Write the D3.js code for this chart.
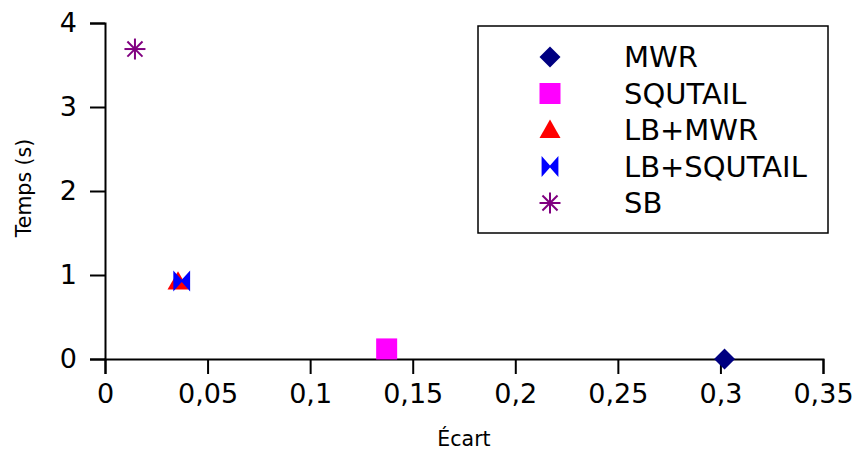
<!DOCTYPE html>
<html>
<head>
<meta charset="utf-8">
<script src="https://cdn.jsdelivr.net/npm/d3@7"></script>
<style>
  body { margin: 0; background: #fff; }
  svg { font-family: 'DejaVu Sans', sans-serif; }
</style>
</head>
<body>
<div class="chart"></div>
<script>
// series, one point each
const seriesNames = ['MWR', 'SQUTAIL', 'LB+MWR', 'LB+SQUTAIL', 'SB']
const ecart = [0.302, 0.1373, 0.0356, 0.0374, 0.0146]
const temps = [0.0, 0.12, 0.92, 0.93, 3.69]
const colors = ['#000080', '#ff00ff', '#ff0000', '#0000ff', '#800080']
const xTicks = [0, 0.05, 0.1, 0.15, 0.2, 0.25, 0.3, 0.35]
const yTicks = [0, 1, 2, 3, 4]

const W = 859
const H = 452
const margin = { top: 23, right: 36, bottom: 93, left: 105 }
const height = H - margin.top - margin.bottom

const svg = d3.select('.chart').append('svg')
  .attr('width', W)
  .attr('height', H)
const chart = svg.append('g')
  .attr('transform', `translate(${margin.left},${margin.top})`)

const x = d3.scaleLinear().domain([0, 0.35]).range([0, 718])
const y = d3.scaleLinear().domain([0, 4]).range([height, 0])

const fmt = d => String(+d.toFixed(2)).replace('.', ',')

const xAxis = chart.append('g')
  .attr('transform', `translate(0,${height})`)
  .call(d3.axisBottom(x).tickValues(xTicks).tickFormat(fmt).tickSize(15).tickPadding(10))
const yAxis = chart.append('g')
  .call(d3.axisLeft(y).tickValues(yTicks).tickFormat(d => d).tickSize(15).tickPadding(13))

;[xAxis, yAxis].forEach(a => {
  a.selectAll('path, line').attr('stroke', '#000').attr('stroke-width', 2)
  a.selectAll('text').attr('font-size', 27).attr('fill', '#000').attr('font-family', 'DejaVu Sans')
})

// axis titles
svg.append('text')
  .attr('x', 464)
  .attr('y', 446)
  .attr('text-anchor', 'middle')
  .attr('font-size', 20.5)
  .text('Écart')
svg.append('text')
  .attr('transform', 'translate(31,188) rotate(-90)')
  .attr('text-anchor', 'middle')
  .attr('font-size', 20.5)
  .text('Temps (s)')

// marker shapes
const drawMarker = (g, i, cx, cy) => {
  const c = colors[i]
  const s = 10.5
  if (i === 0) {
    g.append('path').attr('d', `M${cx},${cy - s} L${cx + s},${cy} L${cx},${cy + s} L${cx - s},${cy} Z`).attr('fill', c)
  } else if (i === 1) {
    g.append('rect').attr('x', cx - s).attr('y', cy - s).attr('width', 2 * s).attr('height', 2 * s).attr('fill', c)
  } else if (i === 2) {
    g.append('path').attr('d', `M${cx},${cy - s} L${cx + s},${cy + s * 0.75} L${cx - s},${cy + s * 0.75} Z`).attr('fill', c)
  } else if (i === 3) {
    g.append('path').attr('d', `M${cx - s * 0.8},${cy - s} L${cx},${cy - s * 0.1} L${cx + s * 0.8},${cy - s} L${cx + s * 0.8},${cy + s} L${cx},${cy + s * 0.1} L${cx - s * 0.8},${cy + s} Z`).attr('fill', c)
  } else {
    const r = s
    const star = g.append('g').attr('stroke', c).attr('stroke-width', 2)
    star.append('line').attr('x1', cx - r).attr('x2', cx + r).attr('y1', cy).attr('y2', cy)
    star.append('line').attr('x1', cx).attr('x2', cx).attr('y1', cy - r).attr('y2', cy + r)
    const d = r * 0.72
    star.append('line').attr('x1', cx - d).attr('x2', cx + d).attr('y1', cy - d).attr('y2', cy + d)
    star.append('line').attr('x1', cx - d).attr('x2', cx + d).attr('y1', cy + d).attr('y2', cy - d)
  }
}

seriesNames.forEach((name, i) => {
  drawMarker(chart, i, x(ecart[i]), y(temps[i]))
})

// legend
const legend = svg.append('g')
legend.append('rect')
  .attr('x', 478)
  .attr('y', 26)
  .attr('width', 350)
  .attr('height', 207)
  .attr('fill', '#fff')
  .attr('stroke', '#000')
  .attr('stroke-width', 1.5)
seriesNames.forEach((name, i) => {
  const ly = 57 + i * 36.5
  drawMarker(legend, i, 550, ly)
  legend.append('text')
    .attr('x', 624)
    .attr('y', ly)
    .attr('dy', '0.36em')
    .attr('font-size', 29)
    .text(name)
})
</script>
</body>
</html>
